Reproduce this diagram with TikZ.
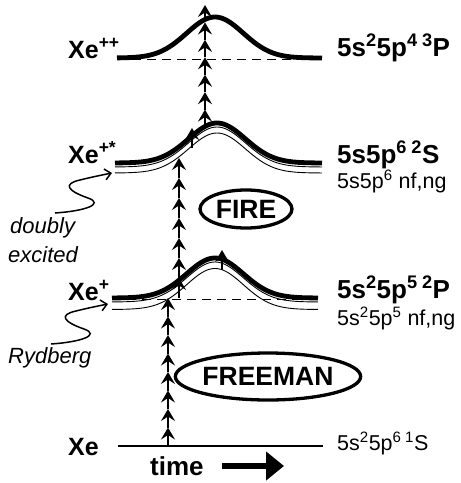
\documentclass[tikz,border=0pt]{standalone}
\usepackage{fontspec}
\setmainfont{Liberation Sans}
\usetikzlibrary{arrows.meta,calc,shapes.geometric}
\begin{document}
\begin{tikzpicture}[x=1pt,y=-1pt,
  declare function={bump(\t,\m)=exp(-((\t-\m)*(\t-\m))/1600);},
  lvl/.style={line width=4.8pt},
  thn/.style={line width=0.9pt},
  dsh/.style={line width=1.6pt, dash pattern=on 9pt off 6pt},
  pho/.style={line width=2.6pt, -{Stealth[length=12pt,width=14pt,inset=4.5pt]}},
  term/.style={font=\fontsize{26}{30}\selectfont\bfseries, inner sep=0pt, anchor=base west},
  sub/.style={font=\fontsize{21.5}{25}\selectfont, inner sep=0pt, anchor=base west},
  ion/.style={font=\fontsize{25}{29}\selectfont\bfseries, inner sep=0pt, anchor=base west},
  note/.style={font=\fontsize{22}{26}\selectfont\itshape, inner sep=0pt, anchor=base west},
  tag/.style={ellipse, draw, line width=3.3pt, inner sep=0pt, font=\fontsize{26.5}{30}\selectfont\bfseries},
  wave/.style={line width=1.5pt, -{Straight Barb[length=6pt,width=11pt]}}
]
\useasboundingbox (0,0) rectangle (461,483);

% ---- levels ----
% Xe++
\draw[dsh] (117,59.5) -- (322,59.5);
\draw[lvl] plot[domain=117:322, samples=90, smooth] (\x,{58-41*bump(\x,215)});
% Xe+*
\draw[lvl] plot[domain=115:322, samples=90, smooth] (\x,{163-40*bump(\x,217)});
\draw[thn] plot[domain=115:322, samples=90, smooth] (\x,{167-40*bump(\x,217)});
\draw[thn] plot[domain=115:322, samples=90, smooth] (\x,{173-40*bump(\x,217)});
% Xe+
\draw[dsh] (112,299.5) -- (318,299.5);
\draw[lvl] plot[domain=112:318, samples=90, smooth] (\x,{298-40*bump(\x,215)});
\draw[thn] plot[domain=112:318, samples=90, smooth] (\x,{302-40*bump(\x,215)});
\draw[thn] plot[domain=112:318, samples=90, smooth] (\x,{309.5-41*bump(\x,215)});
% Xe ground
\draw[line width=2.7pt] (118,446) -- (323,446);

% ---- photon ladders ----
\coordinate (a0) at (168,446); \coordinate (a1) at (168,298);
\coordinate (b0) at (179,298); \coordinate (b1) at (179,158);
\coordinate (c0) at (205,127); \coordinate (c1) at (205,5);
\coordinate (d0) at (222,270); \coordinate (d1) at (222,250);
\coordinate (e0) at (192,148); \coordinate (e1) at (192,128);
\foreach \i in {1,...,8}
  \draw[pho] ($(a0)!{(\i-1)/8}!(a1)$) -- ($(a0)!{\i/8}!(a1)$);
\foreach \i in {1,...,7}
  \draw[pho] ($(b0)!{(\i-1)/7}!(b1)$) -- ($(b0)!{\i/7}!(b1)$);
\foreach \i in {1,...,7}
  \draw[pho] ($(c0)!{(\i-1)/7}!(c1)$) -- ($(c0)!{\i/7}!(c1)$);
\draw[pho] (d0) -- (d1);
\draw[pho] (e0) -- (e1);

% ---- left labels ----
\node[ion] (xepp) at (68,58) {Xe\textsuperscript{++}};
\node[ion] (xeps) at (68,163) {Xe\textsuperscript{+*}};
\node[ion] (xep) at (68,300) {Xe\textsuperscript{+}};
\node[ion] (xe) at (68,455) {Xe};

\node[note] (dbl) at (10,233) {doubly};
\node[note] (exc) at (8,262) {excited};
\node[note] (ryd) at (8,363) {Rydberg};

\coordinate (w1) at (55,213);
\draw[wave] (w1) .. controls (85,211) and (105,204) .. (88,198)
  .. controls (68,191) and (62,184) .. (80,180)
  .. controls (92,177) and (102,175) .. (112,173);
\coordinate (w2) at (51,344);
\draw[wave] (w2) .. controls (81,342) and (101,335) .. (84,329)
  .. controls (64,322) and (58,315) .. (76,311)
  .. controls (88,308) and (98,306) .. (108,304);

% ---- right labels ----
\node[term] (t3) at (337,56) {5s\textsuperscript{2}5p\textsuperscript{4}\,\textsuperscript{3}P};
\node[term] (t2) at (337,163) {5s5p\textsuperscript{6}\,\textsuperscript{2}S};
\node[sub] (s2) at (337,188) {5s5p\textsuperscript{6} nf,ng};
\node[term] (t1) at (337,298) {5s\textsuperscript{2}5p\textsuperscript{5}\,\textsuperscript{2}P};
\node[sub] (s1) at (337,325) {5s\textsuperscript{2}5p\textsuperscript{5} nf,ng};
\node[sub] (t0) at (337,450) {5s\textsuperscript{2}5p\textsuperscript{6}\,\textsuperscript{1}S};

% ---- tags ----
\node[tag, minimum width=92pt, minimum height=38pt] (fire) at (246,209) {FIRE};
\node[tag, minimum width=176pt, minimum height=47pt] (freeman) at (268,376.5) {FREEMAN};

% ---- time ----
\node[term] (time) at (150,475) {time};
\coordinate (ta) at (222,466); \coordinate (tb) at (284,466);
\draw[line width=6pt, -{Triangle[length=18pt,width=28pt]}] (ta) -- (tb);
\end{tikzpicture}
\end{document}
